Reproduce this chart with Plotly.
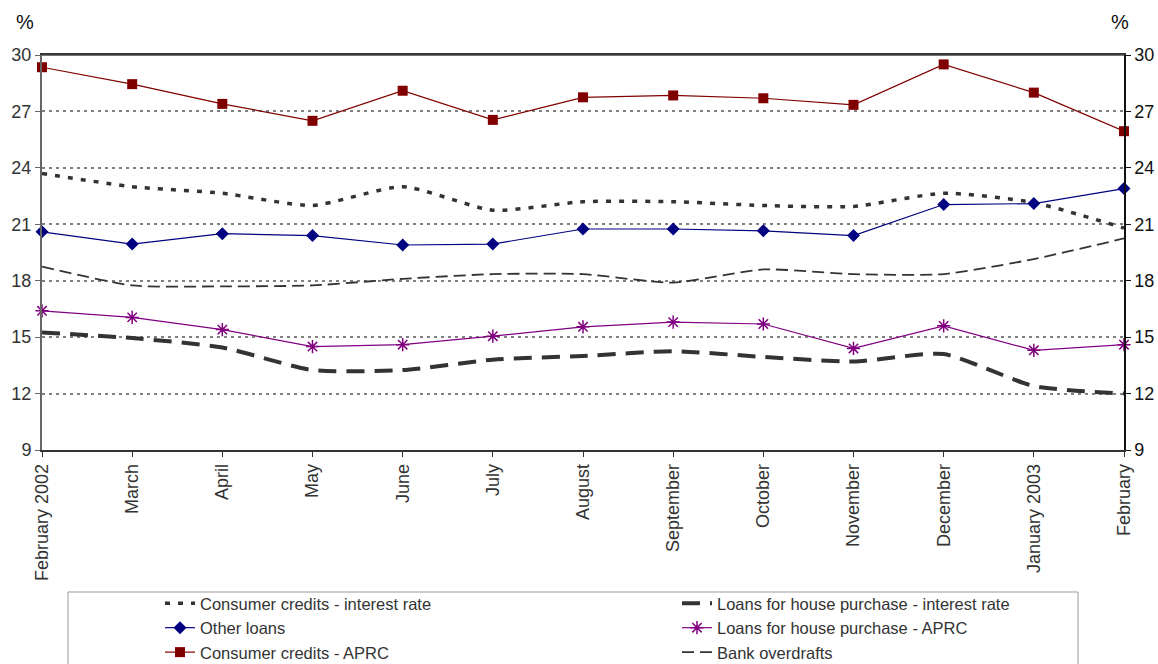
import plotly.graph_objects as go

months = ["February 2002", "March", "April", "May", "June", "July", "August",
          "September", "October", "November", "December", "January 2003", "February"]

consumer_rate = [23.7, 23.0, 22.65, 22.0, 23.0, 21.75, 22.2, 22.2, 22.0, 21.95, 22.65, 22.15, 20.8]
house_rate = [15.25, 14.95, 14.45, 13.25, 13.25, 13.8, 14.0, 14.25, 13.95, 13.7, 14.1, 12.4, 12.0]
other_loans = [20.6, 19.95, 20.5, 20.4, 19.9, 19.95, 20.75, 20.75, 20.65, 20.4, 22.05, 22.1, 22.9]
house_aprc = [16.4, 16.05, 15.4, 14.5, 14.6, 15.05, 15.55, 15.8, 15.7, 14.4, 15.6, 14.3, 14.6]
consumer_aprc = [29.35, 28.45, 27.4, 26.5, 28.1, 26.55, 27.75, 27.85, 27.7, 27.35, 29.5, 28.0, 25.95]
overdrafts = [18.75, 17.75, 17.7, 17.75, 18.1, 18.35, 18.35, 17.9, 18.6, 18.35, 18.35, 19.15, 20.25]

y_ticks = [9, 12, 15, 18, 21, 24, 27, 30]

W, H = 1158, 664
L, R, T, B = 42, 34, 55, 214
PW, PH = W - L - R, H - T - B
FONT = "Liberation Sans, Arial, sans-serif"
TXT = "#333333"

fig = go.Figure()

def add(name, y, color, width, dash="solid", marker=None, shape="linear"):
    kw = dict(x=months, y=y, name=name, cliponaxis=False,
              line=dict(color=color, width=width, dash=dash, shape=shape))
    if shape == "spline":
        kw["line"]["smoothing"] = 0.6
    if marker:
        kw["mode"] = "lines+markers"
        kw["marker"] = marker
    else:
        kw["mode"] = "lines"
    fig.add_trace(go.Scatter(**kw))

# Legend order fills row by row in two columns
add("Consumer credits - interest rate", consumer_rate, "#333333", 3.5, "5px,8px", shape="spline")
add("Loans for house purchase - interest rate", house_rate, "#333333", 4, "18px,10px", shape="spline")
add("Other loans", other_loans, "#000080", 1.2,
    marker=dict(symbol="diamond", size=10, color="#000080"))
add("Loans for house purchase - APRC", house_aprc, "#800080", 1.2,
    marker=dict(symbol="asterisk-open", size=11, color="#800080", line=dict(color="#800080", width=1.5)))
add("Consumer credits - APRC", consumer_aprc, "#800000", 1.2,
    marker=dict(symbol="square", size=10, color="#800000"))
add("Bank overdrafts", overdrafts, "#333333", 1.8, "12px,6px", shape="spline")

# Legend frame
fig.add_shape(type="rect", xref="paper", yref="paper",
              x0=(68 - L) / PW, x1=(1078 - L) / PW,
              y0=(H - B - 672) / PH, y1=(H - B - 592) / PH,
              line=dict(color="#999999", width=1), fillcolor="white", layer="below")

fig.update_layout(
    width=W, height=H,
    margin=dict(l=L, r=R, t=T, b=B, pad=0, autoexpand=False),
    paper_bgcolor="white", plot_bgcolor="white",
    font=dict(family=FONT, size=18, color=TXT),
    showlegend=True,
    legend=dict(orientation="h", xref="container", x=160 / W, xanchor="left",
                yref="container", y=(H - 586) / H, yanchor="top",
                entrywidth=472, entrywidthmode="pixels",
                font=dict(family=FONT, size=16.5, color=TXT),
                bgcolor="rgba(0,0,0,0)", tracegroupgap=0),
    xaxis=dict(type="category", range=[0, 12], tickangle=-90, automargin=False,
               showline=True, linecolor="#333333", linewidth=1.5, mirror=True,
               ticks="outside", ticklen=5, tickcolor="#333333",
               showgrid=False, zeroline=False,
               tickfont=dict(family=FONT, size=18, color=TXT)),
    yaxis=dict(range=[9, 30], tickvals=y_ticks, automargin=False,
               showline=True, linecolor="#666666", linewidth=2, mirror=False,
               ticks="outside", ticklen=5, tickcolor="#666666",
               showgrid=True, gridcolor="#808080", gridwidth=2, griddash="3px,4px",
               zeroline=False, tickfont=dict(family=FONT, size=18, color=TXT)),
    yaxis2=dict(range=[9, 30], tickvals=y_ticks, overlaying="y", side="right",
                automargin=False,
                showline=True, linecolor="#111111", linewidth=1.5,
                ticks="outside", ticklen=5, tickcolor="#111111",
                showgrid=False, zeroline=False,
                tickfont=dict(family=FONT, size=18, color="#111111")),
)

# Top border of the plotting area
fig.add_shape(type="line", xref="paper", yref="paper", x0=0, x1=1, y0=1, y1=1,
              line=dict(color="#444444", width=1.5))

# Invisible trace to anchor the right-hand axis
fig.add_trace(go.Scatter(x=months, y=consumer_aprc, yaxis="y2", mode="lines",
                         line=dict(width=0), opacity=0, showlegend=False, hoverinfo="skip"))

for xp in (25, 1120):
    fig.add_annotation(text="%", xref="paper", yref="paper",
                       x=(xp - L) / PW, y=(H - B - 22) / PH,
                       xanchor="center", yanchor="middle", showarrow=False,
                       font=dict(family=FONT, size=20, color="#111111"))

fig.write_html("out.html")
